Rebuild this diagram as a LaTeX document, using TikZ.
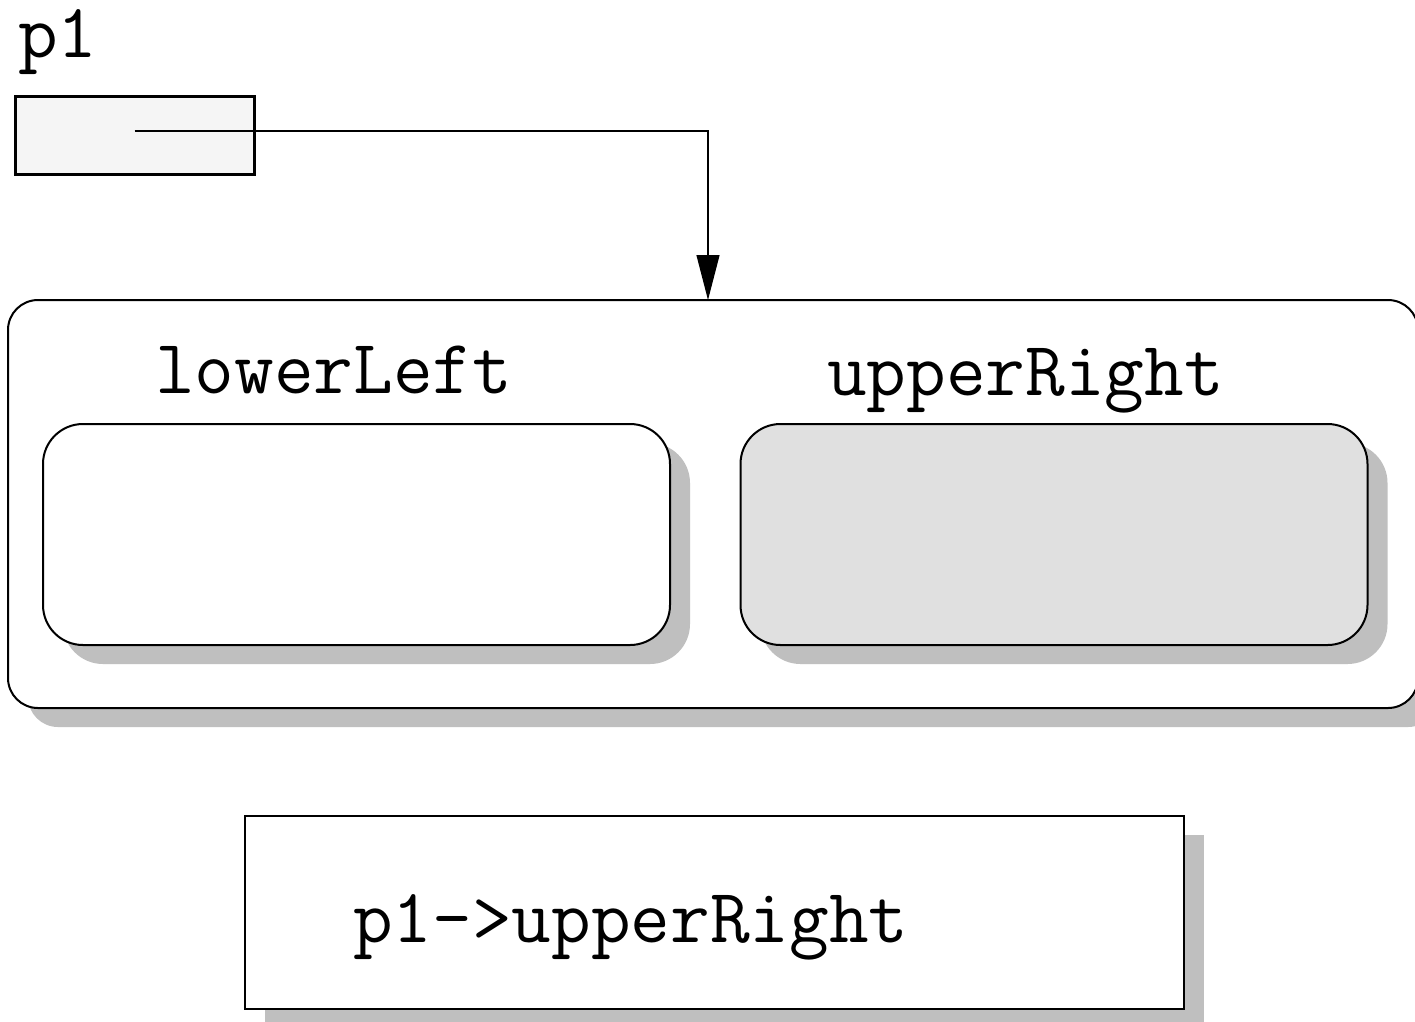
\documentclass[tikz,border=0pt]{standalone}
\usepackage{fontspec}
\usetikzlibrary{arrows.meta,shadows}

\tikzset{
  code/.style={font=\ttfamily\fontsize{77}{82}\selectfont, inner sep=0, anchor=base west},
  shade box/.style={draw, line width=2pt, inner sep=0, drop shadow={shadow xshift=20pt, shadow yshift=-19pt, fill=black!25, opacity=1}},
  field/.style={shade box, rounded corners=40pt, minimum width=627pt, minimum height=221pt},
}

\begin{document}
\begin{tikzpicture}[x=1pt, y=-1pt]
\useasboundingbox (0,0) rectangle (1415,1021);

% pointer variable
\node[code] (pname) at (18,57) {p1};
\node[draw, line width=3pt, fill=black!4, inner sep=0, minimum width=239pt, minimum height=78pt] (pbox) at (134.5,135) {};

% the rectangle object
\node[shade box, rounded corners=30pt, fill=white, minimum width=1410pt, minimum height=408pt] (outer) at (713,504) {};
\node[field, fill=white] (lower) at (356.5,534.5) {};
\node[field, fill=black!12] (upper) at (1054,534.5) {};
\node[code] (lname) at (155,393) {lowerLeft};
\node[code] (uname) at (827,395) {upperRight};

\coordinate (hit) at (708,300);
\draw[line width=1.2pt, -{Triangle[length=45pt, width=23pt]}] ([yshift=4pt]pbox.center) -| (hit);

% expression
\node[shade box, sharp corners, fill=white, minimum width=939pt, minimum height=193pt] (expr) at (714.5,912.5) {};
\node[code] (etext) at (353,942) {p1->upperRight};

\end{tikzpicture}
\end{document}
